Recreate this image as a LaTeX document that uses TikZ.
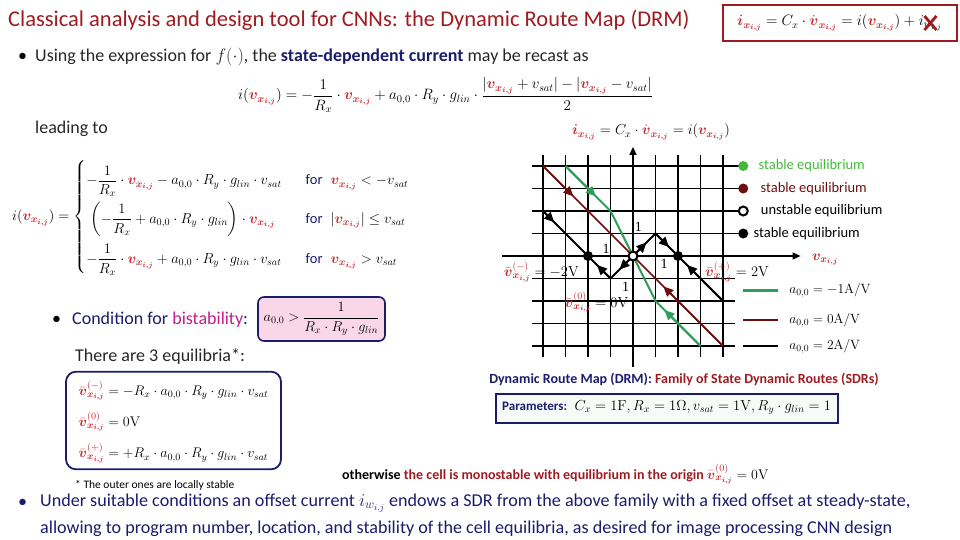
\RequirePackage{fix-cm}
\documentclass[tikz,border=0pt]{standalone}
\usepackage{amsmath}
\usepackage{amssymb}
\usepackage[no-math]{fontspec}
\setmainfont{Carlito}
\newfontfamily\numfont{Liberation Serif}
\usetikzlibrary{arrows.meta, positioning, calc}
\definecolor{drmred}{HTML}{9E1B20}
\definecolor{drmmath}{HTML}{C8282E}
\definecolor{drmnavy}{HTML}{1C1C6C}
\definecolor{drmgreen}{HTML}{2E9E5A}
\definecolor{drmlime}{HTML}{45B83C}
\definecolor{drmbrown}{HTML}{6E0F0F}
\definecolor{drmpink}{HTML}{FAD7E8}
\definecolor{drmmagenta}{HTML}{C01E8C}
\definecolor{drmmint}{HTML}{F6FBF8}

\newcommand{\vxij}{{\color{drmmath}\boldsymbol{v_{x_{i,j}}}}}
\newcommand{\ixij}{{\color{drmmath}\boldsymbol{i_{x_{i,j}}}}}
\newcommand{\dvxij}{{\color{drmmath}\dot{\boldsymbol{v}}_{\boldsymbol{x_{i,j}}}}}
\newcommand{\eqv}[1]{{\color{drmmath}\bar{\boldsymbol{v}}^{(#1)}_{\boldsymbol{x_{i,j}}}}}

\begin{document}
\begin{tikzpicture}[x=1pt, y=-1pt,
    txt/.style={anchor=west, inner sep=0pt, font=\fontsize{18}{21}\selectfont},
    bigtxt/.style={anchor=west, inner sep=0pt, font=\fontsize{18.1}{22}\selectfont, text=drmnavy},
    mathtxt/.style={anchor=west, inner sep=0pt, font=\fontsize{14.5}{16}\selectfont},
    gridline/.style={line width=1.5pt, black},
    flow/.style={-{Triangle[length=10pt, width=9pt]}},
    legtxt/.style={anchor=west, inner sep=0pt, font=\fontsize{14.5}{16}\selectfont},
    onetxt/.style={font=\numfont\fontsize{14}{16}\selectfont, inner sep=0pt},
    eqdot/.style={circle, inner sep=0pt, minimum size=10pt}]
    \useasboundingbox (0,0) rectangle (960,540);

    % Title and main equation
    \node[anchor=west, inner sep=0pt, font=\fontsize{22.5}{26}\selectfont, text=drmred] (title) at (8,20) {Classical analysis and design tool for CNNs: the Dynamic Route Map (DRM)};
    \draw[drmred, line width=1.6pt] (723,5) rectangle (957,41);
    \node[anchor=west, inner sep=0pt, font=\fontsize{15}{17}\selectfont] (celleq) at (737,23)
        {$\ixij = C_x\cdot\dvxij = i(\vxij) +{}$};
    \node[anchor=west, inner sep=0pt, font=\fontsize{15}{17}\selectfont] (wterm) at (celleq.east) {$i_{w_{i,j}}$};
    \draw[drmred, line width=2.8pt] ([shift={(-6pt,7pt)}]wterm.center) -- ([shift={(6pt,-7pt)}]wterm.center);
    \draw[drmred, line width=2.8pt] ([shift={(-6pt,-7pt)}]wterm.center) -- ([shift={(6pt,7pt)}]wterm.center);

    % State-dependent current
    \node[txt] (dot1) at (18,57) {\textbullet};
    \node[txt, text=black!85] (using) at (35,57) {Using the expression for $f(\cdot)$, the \textbf{\color{drmnavy}state-dependent current} may be recast as};
    \node[mathtxt, font=\fontsize{15}{17}\selectfont] (recast) at (238,95)
        {$i(\vxij) = -\dfrac{1}{R_x}\cdot\vxij + a_{0,0}\cdot R_y\cdot g_{lin}\cdot\dfrac{|\vxij+v_{sat}|-|\vxij-v_{sat}|}{2}$};
    \node[txt, text=black!85] (leading) at (35,129) {leading to};
    \node[mathtxt] (piecewise) at (12,217)
        {$i(\vxij) = \left\{\renewcommand{\arraystretch}{2.35}\begin{array}{@{}l@{\hspace{24pt}}l@{}}
            -\dfrac{1}{R_x}\cdot\vxij - a_{0,0}\cdot R_y\cdot g_{lin}\cdot v_{sat} & \text{\color{drmnavy}for}\;\; \vxij < -v_{sat}\\
            \;\left(-\dfrac{1}{R_x} + a_{0,0}\cdot R_y\cdot g_{lin}\right)\cdot\vxij & \text{\color{drmnavy}for}\;\; |\vxij| \le v_{sat}\\
            -\dfrac{1}{R_x}\cdot\vxij + a_{0,0}\cdot R_y\cdot g_{lin}\cdot v_{sat} & \text{\color{drmnavy}for}\;\; \vxij > v_{sat}
          \end{array}\right.$};

    % Bistability
    \node[txt] (dot2) at (52,320) {\textbullet};
    \node[txt, text=drmnavy] (cond) at (72,320) {Condition for {\color{drmmagenta}bistability}:};
    \node[draw=drmnavy, line width=1.6pt, fill=drmpink, rounded corners=6pt, minimum width=127, minimum height=44, inner sep=1pt, font=\fontsize{14.3}{16}\selectfont] (bistable) at (321.5,319)
        {$a_{0,0} > \dfrac{1}{R_x\cdot R_y\cdot g_{lin}}$};
    \node[txt, text=black!85] (three) at (75,357) {There are 3 equilibria*:};
    \node[draw=drmnavy, line width=1.8pt, rounded corners=10pt, minimum width=215, minimum height=93, inner sep=2pt, font=\fontsize{14}{16}\selectfont] (equilibria) at (173.5,420.5)
        {$\renewcommand{\arraystretch}{1.95}\begin{array}{@{}l@{}}
            \eqv{-} = -R_x\cdot a_{0,0}\cdot R_y\cdot g_{lin}\cdot v_{sat}\\
            \eqv{0} = 0\mathrm{V}\\
            \eqv{+} = +R_x\cdot a_{0,0}\cdot R_y\cdot g_{lin}\cdot v_{sat}
          \end{array}$};
    \node[anchor=west, inner sep=0pt, font=\fontsize{11.5}{13}\selectfont] (outer) at (75,485) {* The outer ones are locally stable};
    \node[anchor=west, inner sep=0pt, font=\fontsize{14}{16}\selectfont\bfseries] (monostable) at (342,474)
        {otherwise {\color{drmred}the cell is monostable with equilibrium in the origin} $\eqv{0} = 0\mathrm{V}$};

    % Offset current
    \node[bigtxt] (dot3) at (18,503) {\textbullet};
    \node[bigtxt] (offset1) at (40,503) {Under suitable conditions an offset current $i_{w_{i,j}}$ endows a SDR from the above family with a fixed offset at steady-state,};
    \node[bigtxt] (offset2) at (40,529) {allowing to program number, location, and stability of the cell equilibria, as desired for image processing CNN design};

    % Dynamic route map
    \node[mathtxt, anchor=center] (maptitle) at (651,132) {$\ixij = C_x\cdot\dvxij = i(\vxij)$};
    \begin{scope}[shift={(633,256)}, x=22.5pt, y=22.5pt]
        \foreach \k in {-4,...,-1,1,2,3,4} {
            \draw[gridline] (\k,-4.5) -- (\k,4.5);
        }
        \foreach \k in {-4,...,-1} {
            \draw[gridline] (-4.5,\k) -- (4.55,\k);
        }
        \foreach \k in {1,...,4} {
            \draw[gridline] (-4.5,\k) -- (4.85,\k);
        }
        \draw[gridline, -{Triangle[length=8pt, width=7pt]}] (-5.82,0) -- (7.45,0);
        \draw[gridline, -{Triangle[length=8pt, width=7pt]}] (0,-4.92) -- (0,4.85);

        % Routes
        \draw[drmbrown, line width=1.5pt] (-4,4) -- (4,-4);
        \draw[drmgreen, line width=2pt] (-3,4) -- (-1,2) -- (1,-2) -- (3,-4);
        \draw[black, line width=2pt] (-4,2) -- (-2,0) -- (-1,-1) -- (1,1) -- (2,0) -- (4,-2);
        \draw[drmbrown, line width=1.5pt, flow] (-4,4) -- (-2.65,2.65);
        \draw[drmbrown, line width=1.5pt, flow] (4,-4) -- (1.35,-1.35);
        \draw[drmgreen, line width=2pt, flow, fill=drmlime] (-3,4) -- (-1.65,2.65);
        \draw[drmgreen, line width=2pt, flow, fill=drmlime] (3,-4) -- (1.4,-2.4);
        \draw[black, line width=2pt, flow] (-4,2) -- (-3.5,1.5);
        \draw[black, line width=2pt, flow] (-1,-1) -- (-1.6,-0.4);
        \draw[black, line width=2pt, flow] (0,0) -- (-0.6,-0.6);
        \draw[black, line width=2pt, flow] (0,0) -- (0.6,0.6);
        \draw[black, line width=2pt, flow] (1,1) -- (1.6,0.4);
        \draw[black, line width=2pt, flow] (4,-2) -- (2.4,-0.4);

        % Equilibria
        \node[eqdot, fill=black] (eqminus) at (-2,0) {};
        \node[eqdot, fill=black] (eqplus) at (2,0) {};
        \node[eqdot, fill=white, draw=black, line width=2pt, minimum size=9pt] (eqzero) at (0,0) {};

        % Unit marks
        \node[onetxt] (one1) at (0.24,1.3) {1};
        \node[onetxt] (one2) at (-1.2,0.3) {1};
        \node[onetxt] (one3) at (1.38,-0.37) {1};
        \node[onetxt] (one4) at (-0.33,-1.36) {1};

        \node[mathtxt] (valminus) at (-5.75,-0.7) {$\eqv{-} = -2\mathrm{V}$};
        \node[mathtxt] (valzero) at (-3.05,-2.05) {$\eqv{0} = 0\mathrm{V}$};
        \node[mathtxt] (valplus) at (3.2,-0.7) {$\eqv{+} = 2\mathrm{V}$};
        \node[mathtxt] (vaxis) at (7.95,-0.15) {$\vxij$};

        % Legend
        \node[eqdot, fill=drmlime] (legA) at (4.9,4) {};
        \node[eqdot, fill=drmbrown] (legB) at (4.9,3) {};
        \node[eqdot, fill=white, draw=black, line width=2pt, minimum size=9pt] (legC) at (4.9,2) {};
        \node[eqdot, fill=black] (legD) at (4.9,1) {};
        \node[legtxt, text=drmlime, right=10pt of legA] {stable equilibrium};
        \node[legtxt, text=drmbrown, right=12pt of legB] {stable equilibrium};
        \node[legtxt, right=12pt of legC] {unstable equilibrium};
        \node[legtxt, right=5pt of legD] {stable equilibrium};

        \coordinate (lineA) at (4.9,-1.54);
        \coordinate (lineB) at (4.9,-2.84);
        \coordinate (lineC) at (4.9,-4);
        \draw[drmgreen, line width=2.5pt] (lineA) -- ++(1.55,0) node[mathtxt, font=\fontsize{13.5}{15}\selectfont, text=black, right=10pt] (legE) {$a_{0,0} = -1\mathrm{A/V}$};
        \draw[drmbrown, line width=2.5pt] (lineB) -- ++(1.55,0) node[mathtxt, font=\fontsize{13.5}{15}\selectfont, text=black, right=10pt] (legF) {$a_{0,0} = 0\mathrm{A/V}$};
        \draw[black, line width=2.5pt] (lineC) -- ++(1.55,0) node[mathtxt, font=\fontsize{13.5}{15}\selectfont, text=black, right=10pt] (legG) {$a_{0,0} = 2\mathrm{A/V}$};
    \end{scope}

    \node[anchor=center, inner sep=0pt, font=\fontsize{14}{16}\selectfont\bfseries] (caption) at (684,379)
        {{\color{drmnavy}Dynamic Route Map (DRM):} {\color{drmred}Family of State Dynamic Routes (SDRs)}};
    \node[draw=drmnavy, line width=2pt, fill=drmmint, anchor=north west, minimum width=342, minimum height=29, inner sep=2pt] (params) at (495,393) {};
    \node[anchor=west, inner sep=0pt, font=\fontsize{13}{15}\selectfont] (paramtxt) at (502,407.5)
        {\textbf{\color{drmnavy}Parameters:}\; {\fontsize{14.5}{16}\selectfont$C_x = 1\mathrm{F}, R_x = 1\Omega, v_{sat} = 1\mathrm{V}, R_y\cdot g_{lin} = 1$}};
\end{tikzpicture}
\end{document}
